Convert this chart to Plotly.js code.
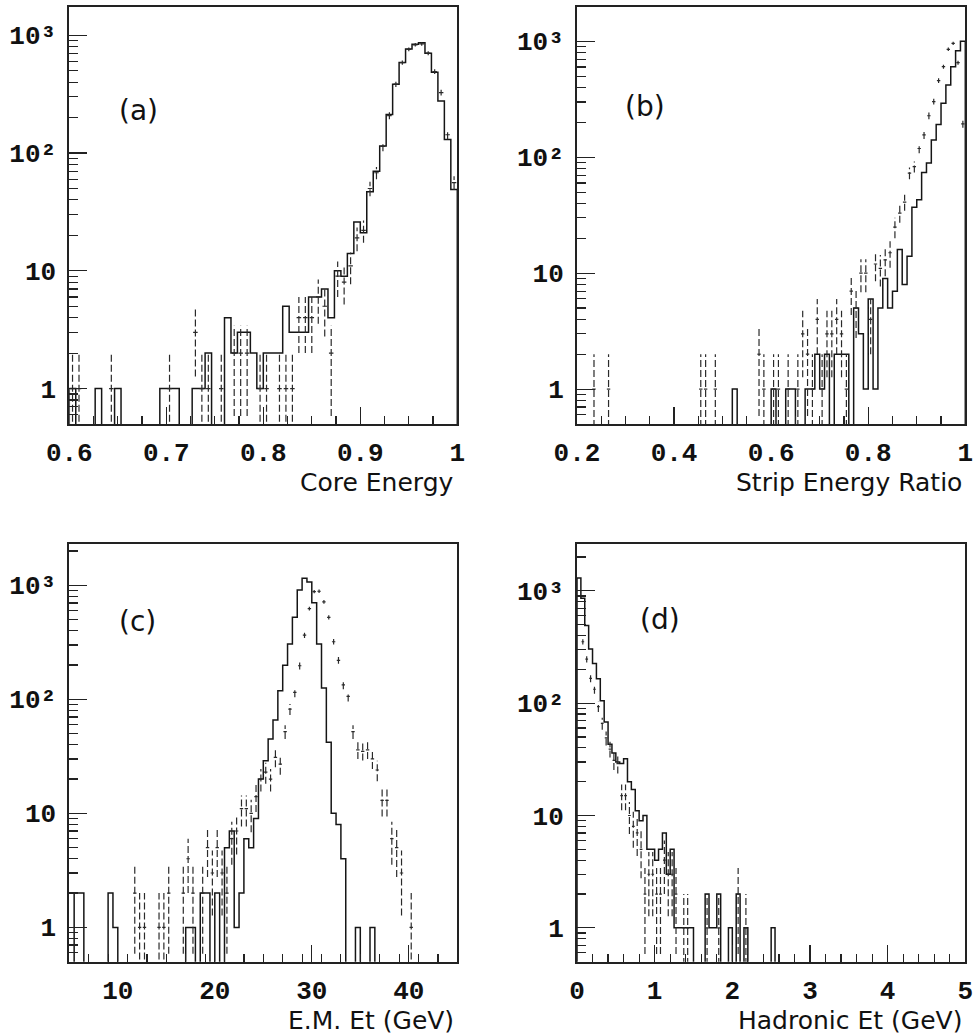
<!DOCTYPE html>
<html><head><meta charset="utf-8">
<script src="https://cdn.plot.ly/plotly-3.0.1.min.js"></script>
<style>html,body{margin:0;padding:0;background:#fff}#chart{width:975px;height:1036px}</style>
</head><body><div id="chart"></div>
<script>
// ---------------- data (counts per bin) ----------------
// (a) Core Energy : 60 bins, 0.6 .. 1.0
const coreLimits = [0.6, 1.0];
const coreMC = [1,0,0,0,1,0,0,1,0,0, 0,0,0,0,1,1,1,0,0,1, 1,2,0,0,4,2,3,3,2,1,
  2,2,2,5,3,3,3,6,6,7, 4,10,9,14,26,21,47,70,115,212, 384,586,765,840,865,704,486,276,130,49];
const coreData = [1,1,0,0,0,0,1,0,0,0, 0,0,0,0,0,1,0,0,0,3, 1,1,0,1,0,2,2,2,0,1,
  1,0,1,1,1,4,4,4,6,5, 2,9,8,11,19,22,50,68,114,208, 384,586,760,830,845,704,492,326,143,56];

// (b) Strip Energy Ratio : 80 bins, 0.2 .. 1.0
const stripLimits = [0.2, 1.0];
const stripMC = [0,0,0,0,0,0,0,0,0,0, 0,0,0,0,0,0,0,0,0,0, 0,0,0,0,0,0,0,0,0,0,
  0,0,1,0,0,0,0,0,0,0, 1,0,0,1,1,0,0,1,1,2, 1,2,0,2,2,2,0,5,3,1,
  6,1,5,9,5,7,16,8,14,37, 43,74,89,141,192,292,420,604,830,1000];
const stripData = [0,0,0,1,0,0,1,0,0,0, 0,0,0,0,0,0,0,0,0,0, 0,0,0,0,0,1,1,0,1,0,
  0,0,0,0,0,0,0,2,1,0, 1,1,0,1,0,1,3,2,1,4, 1,3,3,4,3,1,7,5,10,10,
  4,12,11,13,15,25,33,41,73,83, 119,156,228,302,458,604,853,961,654,194];

// (c) E.M. Et (GeV) : 80 bins, 5 .. 45
const emLimits = [5, 45];
const emMC = [0,2,2,0,0,0,0,0,2,1, 0,0,0,0,0,0,0,0,0,0, 0,0,0,0,1,1,0,2,2,0,
  2,0,5,7,1,2,6,5,9,20, 29,45,66,119,199,305,524,912,1155,1070,
  702,305,126,42,10,8,4,0,0,1, 0,0,1,0,0,0,0,0,0,0, 0,0,0,0,0,0,0,0,0,0];
const emData = [0,0,0,0,0,0,0,0,0,0, 0,0,0,2,1,1,0,0,1,1, 2,0,0,2,4,2,0,2,5,3,
  5,3,2,6,7,11,11,10,14,20, 23,20,31,27,52,82,115,197,365,625,
  882,887,716,524,320,220,134,106,52,36, 35,36,30,24,13,13,6,5,3,0, 1,0,0,0,0,0,0,0,0,0];

// (d) Hadronic Et (GeV) : 100 bins, 0 .. 5
const hadLimits = [0, 5];
const hadMC = [1300,860,490,303,225,165,105,68,43,36, 30,29,32,20,17,11,9,10,5,5,
  4,5,7,3,5,1,1,1,1,1, 0,0,0,2,1,1,2,0,0,1, 0,2,0,1,0,0,0,0,0,0,
  1,0,0,0,0,0,0,0,0,0, 0,0,0,0,0,0,0,0,0,0, 0,0,0,0,0,0,0,0,0,0,
  0,0,0,0,0,0,0,0,0,0, 0,0,0,0,0,0,0,0,0,0];
const hadData = [0,352,246,166,133,93,66,49,39,31, 29,15,15,10,8,7,5,2,3,3,
  2,2,4,3,3,2,0,1,1,0, 0,0,0,1,0,0,1,0,0,0, 0,2,0,1,0,0,0,0,0,0,
  0,0,0,0,0,0,0,0,0,0, 0,0,0,0,0,0,0,0,0,0, 0,0,0,0,0,0,0,0,0,0,
  0,0,0,0,0,0,0,0,0,0, 0,0,0,0,0,0,0,0,0,0];

// axis tick labels
const coreTicks = [0.6, 0.7, 0.8, 0.9, 1.0], coreTickText = ['0.6','0.7','0.8','0.9','1'];
const stripTicks = [0.2, 0.4, 0.6, 0.8, 1.0], stripTickText = ['0.2','0.4','0.6','0.8','1'];
const emTicks = [10, 20, 30, 40], emTickText = ['10','20','30','40'];
const hadTicks = [0, 1, 2, 3, 4, 5], hadTickText = ['0','1','2','3','4','5'];
const yTicks = [1, 10, 100, 1000];
const yTickText = ['1', '10', '10\u00b2', '10\u00b3'];
const titles = ['Core Energy', 'Strip Energy Ratio', 'E.M. Et (GeV)', 'Hadronic Et (GeV)'];
const panelLabels = ['(a)', '(b)', '(c)', '(d)'];

// ---------------- layout geometry (pixels) ----------------
const W = 975, H = 1036;
const boxes = [
  {l: 69.3, r: 457.3, t: 7, b: 424, ytop: 3.240, minor: 0.025},
  {l: 577, r: 965.3, t: 7, b: 424, ytop: 3.296, minor: 0.05},
  {l: 69.3, r: 457.3, t: 543.7, b: 961.7, ytop: 3.365, minor: 2},
  {l: 577, r: 965.3, t: 543.7, b: 961.7, ytop: 3.419, minor: 0.2}
];
const labelPos = [[138, 111], [645, 106], [137, 621], [660, 619]];

const panels = [
  {lim: coreLimits, mc: coreMC, data: coreData, ticks: coreTicks, tt: coreTickText},
  {lim: stripLimits, mc: stripMC, data: stripData, ticks: stripTicks, tt: stripTickText},
  {lim: emLimits, mc: emMC, data: emData, ticks: emTicks, tt: emTickText},
  {lim: hadLimits, mc: hadMC, data: hadData, ticks: hadTicks, tt: hadTickText}
];

const FLOOR = 1e-3;
const ink = '#151515';
const traces = [];
panels.forEach((p, k) => {
  const xa = 'x' + (k ? k + 1 : ''), ya = 'y' + (k ? k + 1 : '');
  const n = p.mc.length, bw = (p.lim[1] - p.lim[0]) / n;
  // solid histogram (step)
  const sx = [p.lim[0]], sy = [FLOOR];
  p.mc.forEach((v, i) => {
    const y = v > 0 ? v : FLOOR;
    sx.push(p.lim[0] + i * bw, p.lim[0] + (i + 1) * bw);
    sy.push(y, y);
  });
  sx.push(p.lim[1]); sy.push(FLOOR);
  traces.push({type: 'scatter', mode: 'lines', x: sx, y: sy, xaxis: xa, yaxis: ya,
    line: {color: ink, width: 1.5}, hoverinfo: 'skip', showlegend: false});
  // data points with sqrt(N) error bars (dashed verticals)
  const vx = [], vy = [], hx = [], hy = [];
  p.data.forEach((v, i) => {
    if (!(v > 0)) return;
    const c = p.lim[0] + (i + 0.5) * bw, e = Math.sqrt(v);
    const lo = v - e > 0.01 ? v - e : FLOOR;
    vx.push(c, c, null); vy.push(lo, v + e, null);
    hx.push(c - 0.35 * bw, c + 0.35 * bw, null); hy.push(v, v, null);
  });
  traces.push({type: 'scatter', mode: 'lines', x: vx, y: vy, xaxis: xa, yaxis: ya,
    line: {color: '#2a2a2a', width: 1.2, dash: '7px,3px'}, hoverinfo: 'skip', showlegend: false});
  traces.push({type: 'scatter', mode: 'lines', x: hx, y: hy, xaxis: xa, yaxis: ya,
    line: {color: '#2a2a2a', width: 1.2}, hoverinfo: 'skip', showlegend: false});
});

const tickFont = {family: 'Liberation Mono, Courier New, monospace', size: 26, color: '#111', weight: 700};
const titleFont = {family: 'DejaVu Sans, sans-serif', size: 25, color: '#111'};
const labelFont = {family: 'DejaVu Sans, sans-serif', size: 28, color: '#111'};
const yMinor = [0.6,0.7,0.8,0.9,2,3,4,5,6,7,8,9,20,30,40,50,60,70,80,90,
  200,300,400,500,600,700,800,900,2000,3000,4000,5000];

const layout = {width: W, height: H, margin: {l: 0, r: 0, t: 0, b: 0},
  paper_bgcolor: '#fff', plot_bgcolor: '#fff', showlegend: false, annotations: []};

boxes.forEach((b, k) => {
  const p = panels[k];
  const xk = 'xaxis' + (k ? k + 1 : ''), yk = 'yaxis' + (k ? k + 1 : '');
  const xa = 'x' + (k ? k + 1 : ''), ya = 'y' + (k ? k + 1 : '');
  layout[xk] = {domain: [b.l / W, b.r / W], anchor: ya, range: p.lim.slice(),
    showline: true, mirror: true, linecolor: '#222', linewidth: 2,
    ticks: 'inside', ticklen: 17, tickwidth: 1.2, tickcolor: '#222',
    tickmode: 'array', tickvals: p.ticks, ticktext: p.tt, tickfont: tickFont,
    ticklabelstandoff: 4,
    minor: {ticks: 'inside', ticklen: 8, tickwidth: 1.2, tickcolor: '#222', dtick: b.minor, tick0: p.lim[0], showgrid: false},
    showgrid: false, zeroline: false, fixedrange: true};
  layout[yk] = {domain: [1 - b.b / H, 1 - b.t / H], anchor: xa, type: 'log',
    range: [Math.log10(0.5), b.ytop],
    showline: true, mirror: true, linecolor: '#222', linewidth: 2,
    ticks: 'inside', ticklen: 18, tickwidth: 1.2, tickcolor: '#222',
    tickmode: 'array', tickvals: yTicks, ticktext: yTickText, tickfont: tickFont,
    ticklabelstandoff: 6,
    minor: {ticks: 'inside', ticklen: 9, tickwidth: 1.2, tickcolor: '#222', tickmode: 'array', tickvals: yMinor, showgrid: false},
    showgrid: false, zeroline: false, fixedrange: true};
  layout.annotations.push({xref: 'paper', yref: 'paper', x: (b.r - 1) / W, y: 1 - (b.b + 42) / H,
    xanchor: 'right', yanchor: 'top', text: titles[k], showarrow: false, font: titleFont});
  layout.annotations.push({xref: 'paper', yref: 'paper', x: labelPos[k][0] / W, y: 1 - labelPos[k][1] / H,
    xanchor: 'center', yanchor: 'middle', text: panelLabels[k], showarrow: false, font: labelFont});
});

Plotly.newPlot('chart', traces, layout, {staticPlot: true, displayModeBar: false});
</script></body></html>
